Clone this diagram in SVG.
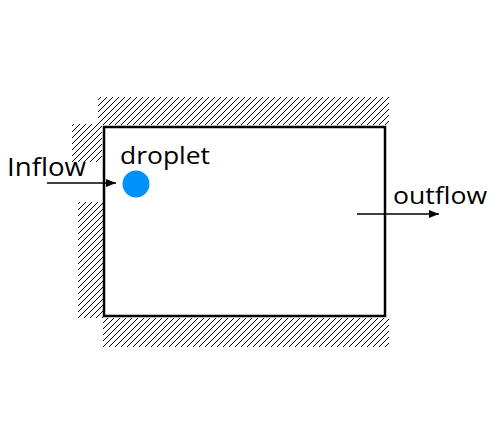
<svg xmlns="http://www.w3.org/2000/svg" width="500" height="426" viewBox="0 0 500 426">
<style>
.lbl{font-family:"Open Sans","Liberation Sans",sans-serif;fill:#000}
.hatch{fill:url(#h)}
.conn{stroke:#000;stroke-width:1.5;fill:none;marker-end:url(#ah)}
</style>
<defs>
<pattern id="h" patternUnits="userSpaceOnUse" width="6" height="6">
<path d="M-1,1 L1,-1 M0,6 L6,0 M5,7 L7,5" stroke="#000" stroke-width="1"/>
</pattern>
<marker id="ah" markerWidth="10" markerHeight="8" refX="10" refY="4" orient="auto" markerUnits="userSpaceOnUse">
<path d="M0,0 L10,4 L0,8 Z" fill="#000"/>
</marker>
</defs>
<rect width="500" height="426" fill="#fff"/>
<g id="walls">
<rect class="hatch" x="98" y="97" width="291" height="28"/>
<rect class="hatch" x="72" y="124" width="30" height="38"/>
<rect class="hatch" x="78" y="202" width="25" height="116"/>
<rect class="hatch" x="103" y="318" width="286" height="29"/>
</g>
<g id="domain">
<rect x="104" y="127" width="281" height="189" fill="#fff" stroke="#000" stroke-width="2.5"/>
</g>
<g id="droplet">
<circle cx="136" cy="184" r="13.5" fill="#0091FA"/>
<text class="lbl" x="120" y="164" font-size="24" textLength="90" lengthAdjust="spacingAndGlyphs">droplet</text>
</g>
<g id="inflow">
<text class="lbl" x="7" y="176" font-size="26" textLength="79" lengthAdjust="spacingAndGlyphs">Inflow</text>
</g>
<g id="outflow">
<text class="lbl" x="393" y="204" font-size="24" textLength="94" lengthAdjust="spacingAndGlyphs">outflow</text>
</g>
<g id="connectors">
<line class="conn" x1="47" y1="183" x2="116" y2="183"/>
<line class="conn" x1="357" y1="214" x2="439" y2="214"/>
</g>
</svg>
